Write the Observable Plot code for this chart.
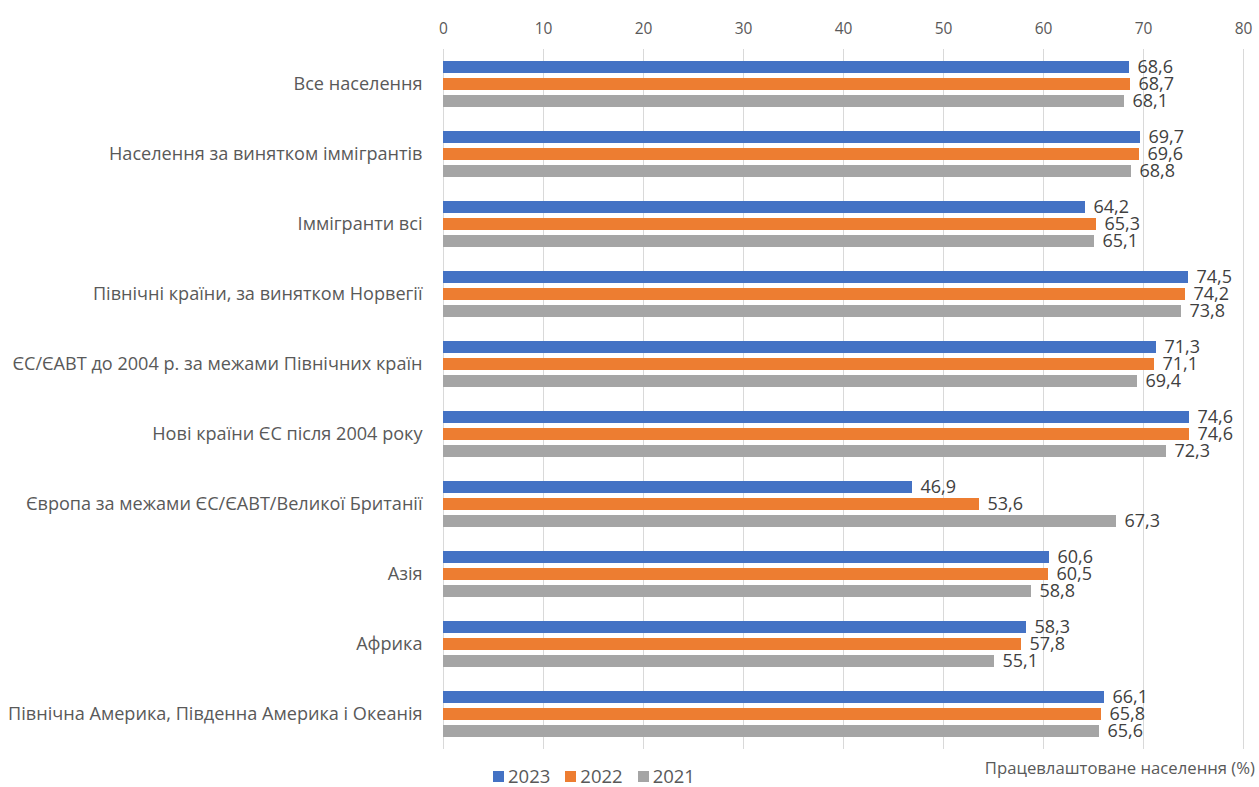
<!DOCTYPE html>
<html>
<head>
<meta charset="utf-8">
<script src="https://cdn.jsdelivr.net/npm/d3@7"></script>
<script src="https://cdn.jsdelivr.net/npm/@observablehq/plot@0.6"></script>
<style>
  html, body { margin: 0; padding: 0; background: #fff; }
  body { font-family: "Open Sans", sans-serif; width: 1259px; height: 787px; overflow: hidden; }
  #footer { position: relative; height: 27px; }
  #xlabel { position: absolute; right: 4px; top: -4px; font-size: 16.7px; color: #595959; white-space: nowrap; }
  #legend { position: absolute; left: 493px; top: 7px; display: flex; align-items: center; font-size: 18.5px; color: #595959; line-height: 1; }
  .item { display: flex; align-items: center; margin-right: 15px; }
  .swatch { width: 11px; height: 11px; margin-right: 4px; }
</style>
</head>
<body>
<div id="chart"></div>
<div id="footer">
  <div id="legend"></div>
  <div id="xlabel">Працевлаштоване населення (%)</div>
</div>
<script>
// Population groups, top to bottom
const categories = [
  "Все населення",
  "Населення за винятком іммігрантів",
  "Іммігранти всі",
  "Північні країни, за винятком Норвегії",
  "ЄС/ЄАВТ до 2004 р. за межами Північних країн",
  "Нові країни ЄС після 2004 року",
  "Європа за межами ЄС/ЄАВТ/Великої Британії",
  "Азія",
  "Африка",
  "Північна Америка, Південна Америка і Океанія"
];
const years = ["2023", "2022", "2021"];
// Employment rate (%) per group, one array per year
const values2023 = [68.6, 69.7, 64.2, 74.5, 71.3, 74.6, 46.9, 60.6, 58.3, 66.1];
const values2022 = [68.7, 69.6, 65.3, 74.2, 71.1, 74.6, 53.6, 60.5, 57.8, 65.8];
const values2021 = [68.1, 68.8, 65.1, 73.8, 69.4, 72.3, 67.3, 58.8, 55.1, 65.6];
const xTicks = [0, 10, 20, 30, 40, 50, 60, 70, 80];
const colors = ["#4472C4", "#ED7D31", "#A5A5A5"];

const series = [values2023, values2022, values2021];
const rows = categories.flatMap((c, i) =>
  years.map((y, j) => ({category: c, year: y, value: series[j][i]}))
);
const fmt = v => v.toFixed(1).replace(".", ",");

const chart = Plot.plot({
  width: 1259,
  height: 760,
  marginTop: 47,
  marginBottom: 10,
  marginLeft: 443,
  marginRight: 16,
  style: {fontFamily: "'Open Sans', sans-serif", background: "#fff"},
  x: {
    domain: [0, 80],
    ticks: xTicks,
    axis: "top",
    label: null,
    tickSize: 0,
    tickPadding: 16
  },
  fy: {
    domain: categories,
    padding: 0,
    label: null,
    axis: "left",
    tickSize: 0,
    tickPadding: 21
  },
  y: {
    domain: years,
    paddingInner: 0.27,
    paddingOuter: 0.62,
    axis: null
  },
  color: {domain: years, range: colors},
  marks: [
    Plot.gridX(xTicks, {stroke: "#d9d9d9", strokeOpacity: 1, strokeWidth: 1}),
    Plot.barX(rows, {x: "value", y: "year", fy: "category", fill: "year"}),
    Plot.text(rows, {
      x: "value", y: "year", fy: "category",
      text: d => fmt(d.value),
      textAnchor: "start", dx: 8, fontSize: 18, fill: "#404040"
    })
  ]
});

// Axis text sizes and colour
const xAxisG = chart.querySelector("[aria-label='x-axis tick label']");
if (xAxisG) { xAxisG.setAttribute("font-size", "15.5"); xAxisG.setAttribute("fill", "#595959"); }
const fyAxisG = chart.querySelector("[aria-label='fy-axis tick label']");
if (fyAxisG) { fyAxisG.setAttribute("font-size", "18.1"); fyAxisG.setAttribute("fill", "#595959"); }

document.getElementById("chart").appendChild(chart);

const legend = document.getElementById("legend");
years.forEach((y, i) => {
  const item = document.createElement("div");
  item.className = "item";
  const sw = document.createElement("span");
  sw.className = "swatch";
  sw.style.background = colors[i];
  const label = document.createElement("span");
  label.textContent = y;
  item.appendChild(sw);
  item.appendChild(label);
  legend.appendChild(item);
});
</script>
</body>
</html>
